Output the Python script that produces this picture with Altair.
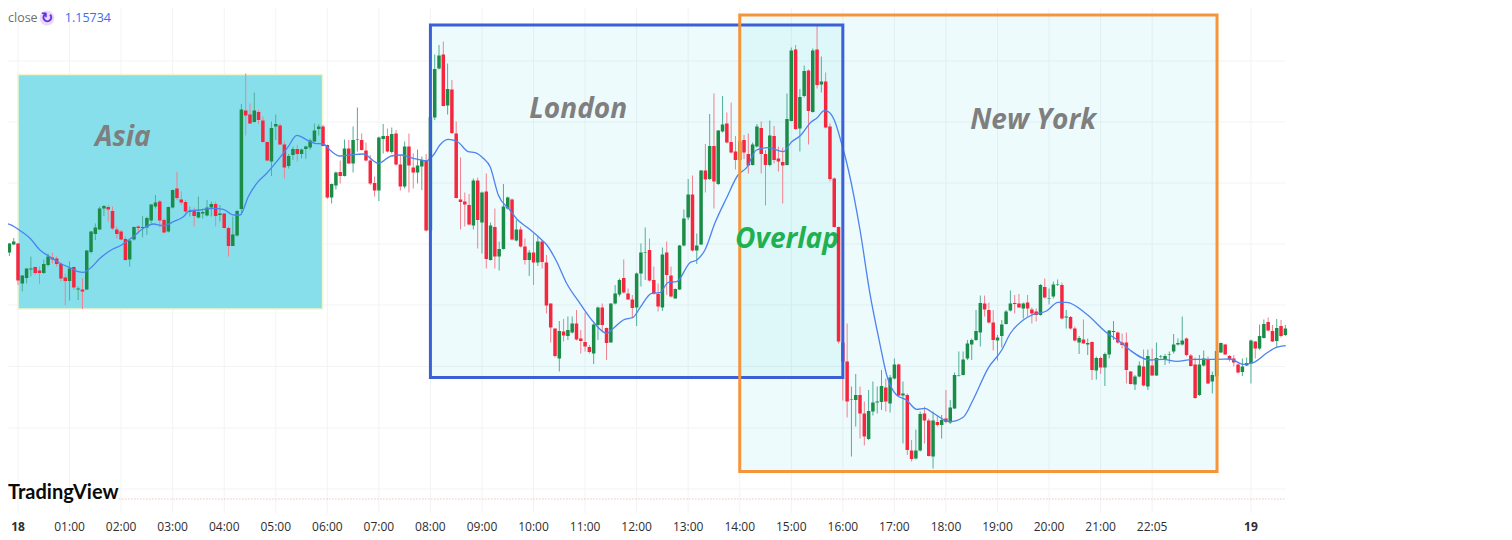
import altair as alt
import pandas as pd

# 5-minute candles; "bar" 0 is 00:00 on the 18th. Prices are in chart points.
opens = [
313.5,296.5,287.5,295.5,296.5,256.5,262,270.5,273,269.5,
267,275,282.5,281.5,276,262.5,259,273,250.5,250.5,
250.5,288,306,310.5,331.5,333,329,310.5,308.5,301,
280.5,300.5,313.5,312,312.5,319.5,333.5,338.5,320,308.5,
332.5,351.5,340.5,338,328,329,322.5,326.5,324.5,332.5,
336,325,326.5,312,294,304.5,331,429.5,425.5,418,
428,419.5,398,378.5,413.5,414.5,395.5,374,385,391,
386,391,392.5,398.5,411,413.5,395,342.5,354.5,368,
364,391.5,376.5,400,400,389.5,379.5,357,349.5,401,
404,388,406.5,375.5,353.5,393.5,372.5,367.5,373.5,380,
309.5,422.5,471.5,485.5,434.5,450.5,406.5,340.5,338.5,335,
314.5,359.5,317.5,348.5,280,313,283.5,291,331.5,340.5,
299.5,310.5,293.5,280,287.5,277.5,298.5,277.5,236.5,211.5,
181.5,208.5,204,207.5,216.5,201.5,198,193,186.5,215,
232.5,212,197.5,236.5,245.5,262,246.5,240.5,232.5,266.5,
287,290,260,246,232.5,287.5,264.5,241.5,250.5,294.5,
322.5,345.5,289.5,295.5,369.5,361,394,356,408.5,416.5,
398,388.5,380,400,386,375,393.5,412,386,375,
404,381.5,378,375,419,490.5,411.5,444,469.5,428,
490.5,455.5,458.5,413.5,361.5,313,197.5,178.5,140,140,
145,126.5,101,128.5,137.5,138,152.5,136.5,161.5,175.5,
144.5,145,89.5,81.5,89.5,126.5,119.5,83.5,118,115,
121.5,117.5,131.5,164.5,165,181.5,195.5,200,207.5,236.5,
230,217.5,199.5,204,216,229.5,237,236.5,231.5,237.5,
230.5,228.5,225,253,241,243.5,255,255,222.5,223,
211.5,197.5,200.5,195.5,198,169.5,182,172.5,185.5,208,
207.5,197.5,197.5,168.5,155.5,163.5,173.5,153.5,174.5,164.5,
183.5,180.5,185.5,188.5,195.5,195.5,201.5,184.5,175.5,145,
174.5,180,158.5,163.5,187.5,195.5,184,181.5,175.5,168,
174.5,176.5,198.5,191.5,202,218,209,199,214,205,
]
highs = [
315,297,297,302,297,265,271.5,283.5,273.5,273.5,
280.5,286.5,287.5,283.5,277.5,266.5,278.5,273.5,253.5,261.5,
290,309,316.5,333.5,335,335,333.5,313.5,310,303.5,
300,313.5,314.5,324,323.5,336,345,340,321.5,333.5,
350.5,368,348.5,340,333.5,332.5,343.5,331.5,340,338.5,
338.5,335,326.5,313.5,323.5,330,436,466.5,436.5,447.5,
430,423.5,398.5,418.5,425.5,416.5,398.5,386,393.5,395,
391.5,394.5,401.5,416.5,416,415,395.5,356.5,368.5,379.5,
400.5,400,413.5,432.5,406.5,397.5,385,363.5,403.5,416,
411.5,412.5,410,385,398.5,406.5,386.5,390.5,383.5,386,
423.5,485.5,495,498.5,476.5,460,418.5,382.5,347.5,346,
361.5,362.5,348.5,366.5,317.5,331.5,298.5,356,343.5,341.5,
320,313.5,301.5,290,306.5,303.5,300,285,236.5,211.5,
219,221,223.5,223.5,230,210,227.5,195,216.5,233.5,
236.5,212.5,236.5,255,261.5,280.5,251.5,245,267.5,296.5,
312.5,301.5,273.5,256.5,292.5,298.5,273.5,251.5,295,330.5,
361,364.5,306.5,370,396,426,446.5,410,444,427.5,
437.5,404,411,405,406.5,397.5,416,418.5,390,419.5,
414,393.5,392.5,446.5,492.5,495,451,474.5,470.5,491.5,
516,483.5,467.5,416.5,362.5,313.5,223.5,216.5,153.5,166,
153.5,138.5,150,158.5,153.5,170,161.5,165,181.5,176.5,
158.5,146.5,100,110.5,128.5,133.5,121.5,128.5,125,125,
150,140,167.5,188.5,188.5,200,201.5,230,244.5,244.5,
237.5,230,205,220,230,249.5,245,246,237.5,245,
232.5,231.5,256,261.5,251.5,258.5,260.5,257.5,230,224,
213.5,204,220.5,201.5,198.5,183.5,183.5,187.5,210,219,
208.5,206.5,207.5,169,165,178.5,190.5,190.5,191.5,197.5,
185,186,188.5,206,201.5,223.5,202.5,186,182.5,185,
189.5,183.5,168.5,198.5,197.5,196,185,185,176.5,181.5,
182.5,200.5,199,215.5,220.5,222.5,215,221,220,215,
]
lows = [
295.5,286.5,284,295,255,248.5,256.5,263.5,265,256,
266,273.5,276.5,273.5,258.5,235,239.5,250,240,231,
250,286.5,300,310,324,318.5,310,301.5,300,279,
273.5,299.5,306.5,302.5,305,316.5,331.5,312.5,306.5,307.5,
331.5,340,335,326.5,323.5,313.5,321.5,321.5,323.5,323.5,
313.5,318.5,311.5,283.5,294,303.5,325,404.5,416,417.5,
416,397.5,378.5,364,400,395,361.5,371.5,380,378.5,
381.5,381.5,390,398,404.5,393.5,341,336.5,350.5,356.5,
363.5,376,367.5,388.5,389.5,378.5,355,343.5,339,386.5,
387.5,386.5,374.5,349.5,351.5,347.5,351.5,356.5,350,308.5,
308.5,420,470.5,433.5,425.5,406,341.5,310.5,313.5,314.5,
310.5,291.5,286.5,271.5,279.5,271.5,269.5,290.5,330.5,299.5,
298.5,292.5,275.5,264,255,274,271.5,226.5,197.5,182.5,
168.5,198.5,200,206.5,199.5,186.5,188.5,186.5,176,200,
208.5,180,197.5,235.5,243.5,246.5,240,221.5,214,253.5,
260,258.5,245.5,228.5,229,245,242.5,241.5,250,293.5,
320,288.5,276,295,347.5,360,331.5,355,407.5,396.5,
386.5,370.5,375,381,366.5,374.5,392.5,366.5,334.5,373.5,
376.5,368.5,336.5,374.5,418.5,410,388.5,442.5,395.5,427.5,
451.5,447.5,411.5,358.5,312.5,196.5,139.5,122.5,83.5,113.5,
101.5,94.5,100,124.5,126.5,130,128.5,127.5,160.5,143.5,
96.5,85,78.5,80.5,88.5,96.5,83.5,71.5,113.5,101.5,
116.5,116,131,163.5,164.5,180,180,199,193.5,223.5,
216.5,189.5,179.5,192.5,215.5,228.5,226.5,232.5,221.5,223.5,
216.5,218.5,224.5,241.5,235.5,241.5,254,220.5,211.5,210.5,
198.5,186,196.5,185,160,160.5,166,154,181.5,200,
196.5,191.5,156.5,155.5,150,162.5,153.5,150,164,164,
181.5,175,176.5,186.5,194.5,194.5,183.5,173.5,141,144,
173.5,156,146.5,162.5,187,185,178.5,173.5,166.5,164,
174,156.5,181.5,190,201.5,208.5,198,192.5,202.5,204,
]
closes = [
296.5,287.5,296.5,298.5,259.5,264.5,271.5,271.5,267,267,
276,283.5,280.5,276,261.5,259,271.5,252.5,251.5,248.5,
289.5,308.5,312.5,331.5,334,330.5,311.5,306,300.5,280,
299.5,313,312,313,322,335.5,337.5,319.5,307.5,333,
350,342,337.5,328.5,329,324,328,328,332.5,336,
324,326.5,312,294,305.5,329,430.5,424.5,416.5,429.5,
420,398,379.5,412,416,395.5,372.5,384,391,386,
390.5,393.5,399.5,409.5,413.5,394,342.5,356,367.5,364,
391.5,376.5,400,400.5,390,379.5,356.5,349.5,402.5,404,
388.5,406,375.5,353.5,393.5,374.5,367.5,374.5,380,309.5,
423,471,484.5,434,451,407,342,338,335.5,315.5,
359.5,320,347.5,281,314.5,283.5,291,333.5,342.5,300.5,
310.5,293.5,280,287.5,277.5,298.5,278,234.5,212.5,184,
209,204.5,210,216.5,200.5,199,193.5,188,215.5,232.5,
215,197,236.5,246.5,260,247.5,240.5,232,266.5,287.5,
287.5,259.5,246.5,233.5,285.5,265,243.5,251,294.5,321.5,
345.5,289.5,294.5,369.5,360.5,394,358.5,409.5,415.5,397.5,
387.5,380,398.5,387.5,374.5,395.5,413.5,386,375,404.5,
380,378.5,374.5,421,489.5,411,443,469,429,489.5,
455,458.5,412.5,361,313,198.5,178.5,138.5,140.5,145,
126.5,103.5,129,137.5,138.5,154,138.5,162.5,175.5,144.5,
146.5,90,81,89.5,126,119.5,84,119.5,115,120,
118,132.5,165,165,180.5,196.5,200,209,237,230.5,
217.5,200,202.5,215.5,228.5,236.5,236,232.5,236.5,231.5,
226.5,225,255,242.5,241.5,255.5,255.5,221.5,223.5,211.5,
199.5,202,196.5,197,170,182,172.5,186,209.5,209,
197.5,195,170,156,163.5,174.5,154.5,184,164.5,182,
184,184,186,195.5,197,199.5,185,174,142,175.5,
181.5,156.5,165,189,197,185.5,180.5,177.5,167.5,173.5,
177,199.5,191.5,204,216,209.5,198.5,212,204,211.5,
]
first_bar = -4

ma_bars = [-4.2,-1.4,0.5,2.8,5.1,7.4,9.8,12.1,14,15.2,16.8,19.1,21.4,24.1,26.8,29.2,31.5,33.8,36.2,38.5,
           40,42.4,45.5,47.8,50.1,51.7,53.6,55.9,57.9,60.2,62.9,64.9,67.6,69.1,71.1,72.6,74.9,77.3,80.4,83.9,
           86.9,89.3,92,95.1,96.7,98.2,100.2,102.5,104.8,106.4,108.3,109.9,111.8,114.5,116.1,118.8,121.5,123.1,125.4,127.7,
           130.8,133.9,137,138.6,140.9,143.2,144.8,147.5,149.4,151.4,153.3,156.4,158,159.9,162.2,164.9,167.6,169.6,171.9,174.6,
           178.1,180.1,182,184.7,185.9,187.7,188.6,190,191.7,193.3,196,198.3,200.6,202.2,204.5,206.8,209.2,211.1,213.1,216.9,
           220,222.3,225.8,229,230.9,234,236,239.4,242.1,244.1,248.7,253.4,256.5,258.8,263.5,266.6,269.7,273.6,279,282.1,
           285.2,287.5,290.6,292.9,295.1]
ma_vals = [317.7,314.7,309.3,301.7,290,283.3,276.7,272.3,268.3,267.7,271.7,281.7,289.3,295,303.3,311.7,316,314.3,318.3,323.3,
           329.3,330,331.7,330.7,325,325,343.3,358.3,366.7,378.3,393.3,404.7,399.3,396.7,396,390,384,385,386,376.7,
           384,385,381.7,379.3,385,395,400.7,397.7,388.3,387.3,381.7,373.3,345,330,321,311.7,301.7,295,278.3,256.7,
           236.7,218.3,206.7,211.7,220,222.7,232.3,246.7,247.3,257.7,258.3,277.3,280,290,316.7,341.7,365,372.3,390,392.3,
           388.3,398.3,404,418.3,421.7,429.3,428.3,420,396.7,370,310,246.7,196.7,165,145,140,130.7,131.7,126.7,118.3,
           122.7,140,171.7,190,206,220,225,229,237.7,237.7,226,207.3,198.3,190,180,180.7,178.7,180.7,180.7,181,
           175.7,177.3,186.7,192.7,194.3]

tick_bars = [0,12,24,36,48,60,72,84,96,108,120,132,144,156,168,180,192,204,216,228,240,252,264,287]
tick_labels = ["18","01:00","02:00","03:00","04:00","05:00","06:00","07:00","08:00","09:00","10:00","11:00",
               "12:00","13:00","14:00","15:00","16:00","17:00","18:00","19:00","20:00","21:00","22:05","19"]
grid_levels = [479,418,357,296,235,173.5,112,51]

session_names = ["London","New York"]
session_start = [96,168]
session_end = [192,279.1]
session_top = [515,525]
session_bottom = [162.5,68.5]
session_colors = ["#3A5FD6","#F6943A"]

asia_start, asia_end, asia_top, asia_bottom = 0, 70.9, 465.5, 231

note_text = ["Asia","London","New York"]
note_bar = [24.4,130.4,236.3]
note_level = [402.5,430.5,419.5]

W, H = 1496, 528
BAR_MIN, BAR_MAX = -2.3277, 345.9
x_scale = alt.Scale(domain=[BAR_MIN, BAR_MAX], nice=False, zero=False)
y_scale = alt.Scale(domain=[4, 532], nice=False, zero=False)
X = lambda f: alt.X(f, type="quantitative", scale=x_scale, axis=None)
Y = lambda f: alt.Y(f, type="quantitative", scale=y_scale, axis=None)

candles = pd.DataFrame({"bar": range(first_bar, first_bar + len(opens)),
                        "open": opens, "high": highs, "low": lows, "close": closes})
candles["body"] = ["#1B8C47" if c >= o else "#F5273E" for o, c in zip(opens, closes)]
candles["wick"] = ["#4FAF97" if c >= o else "#F0808F" for o, c in zip(opens, closes)]
ma = pd.DataFrame({"bar": ma_bars, "ma": ma_vals})
ticks = pd.DataFrame({"bar": tick_bars, "label": tick_labels,
                      "lo": [27]*len(tick_bars), "hi": [532]*len(tick_bars), "lab": [13]*len(tick_bars)})
day_ticks = ticks[ticks["label"].isin(["18", "19"])]
hour_ticks = ticks[~ticks["label"].isin(["18", "19"])]
grid = pd.DataFrame({"level": grid_levels, "a": [BAR_MIN]*len(grid_levels), "b": [295]*len(grid_levels)})
sessions = pd.DataFrame({"name": session_names, "s": session_start, "e": session_end,
                         "t": session_top, "b": session_bottom, "c": session_colors})
asia = pd.DataFrame({"s": [asia_start], "e": [asia_end], "t": [asia_top], "b": [asia_bottom]})
notes = pd.DataFrame({"text": note_text, "bar": note_bar, "level": note_level})

vgrid = alt.Chart(ticks).mark_rule(color="#F1F3F6", strokeWidth=1).encode(x=X("bar"), y=Y("lo"), y2="hi")
hgrid = alt.Chart(grid).mark_rule(color="#F1F3F6", strokeWidth=1).encode(x=X("a"), x2="b", y=Y("level"))

asia_rect = alt.Chart(asia).mark_rect(fill="#87DFEB", stroke="#F3F6C8", strokeWidth=1.5).encode(
    x=X("s"), x2="e", y=Y("b"), y2="t")
sess_fill = alt.Chart(sessions).mark_rect(fill="#00BCD4", fillOpacity=0.065).encode(
    x=X("s"), x2="e", y=Y("b"), y2="t")
sess_stroke = alt.Chart(sessions).mark_rect(fillOpacity=0, strokeWidth=3).encode(
    x=X("s"), x2="e", y=Y("b"), y2="t",
    stroke=alt.Stroke("c:N", scale=None))

wicks = alt.Chart(candles).mark_rule(strokeWidth=1).encode(
    x=X("bar"), y=Y("low"), y2="high", color=alt.Color("wick:N", scale=None))
bodies = alt.Chart(candles).mark_rule(strokeWidth=3.5).encode(
    x=X("bar"), y=Y("open"), y2="close", color=alt.Color("body:N", scale=None))
ma_line = alt.Chart(ma).mark_line(color="#4C82F2", strokeWidth=1.3, interpolate="monotone").encode(x=X("bar"), y=Y("ma"))

note_marks = alt.Chart(notes).mark_text(font="Open Sans", fontSize=28, fontWeight="bold", fontStyle="italic",
                                        color="#7F7F7F").encode(x=X("bar"), y=Y("level"), text="text")
overlap = alt.Chart(pd.DataFrame({"t": ["Overlap"], "bar": [179], "level": [300.5]})).mark_text(
    font="Open Sans", fontSize=28, fontWeight="bold", fontStyle="italic", color="#1FB14F").encode(
    x=X("bar"), y=Y("level"), text="t")

hour_text = alt.Chart(hour_ticks).mark_text(font="Open Sans", fontSize=12, color="#2E2E2E").encode(
    x=X("bar"), y=Y("lab"), text="label")
day_text = alt.Chart(day_ticks).mark_text(font="Open Sans", fontSize=12, fontWeight="bold", color="#2E2E2E").encode(
    x=X("bar"), y=Y("lab"), text="label")

dots = alt.Chart(pd.DataFrame({"a": [23.6], "b": [295], "level": [41]})).mark_rule(
    color="#F3A3A3", strokeWidth=1, strokeDash=[1, 2]).encode(x=X("a"), x2="b", y=Y("level"))
brand = alt.Chart(pd.DataFrame({"t": ["TradingView"], "bar": [BAR_MIN], "level": [47]})).mark_text(
    font="Lato", fontSize=20, fontWeight="bold", color="#0A0A0A", align="left").encode(x=X("bar"), y=Y("level"), text="t")
close_word = alt.Chart(pd.DataFrame({"t": ["close"], "bar": [BAR_MIN], "level": [522]})).mark_text(
    font="Open Sans", fontSize=12.5, color="#6F6F6F", align="left").encode(x=X("bar"), y=Y("level"), text="t")
icon_bg = alt.Chart(pd.DataFrame({"bar": [6.75], "level": [522]})).mark_point(
    shape="circle", size=220, filled=True, color="#E7DCFB", opacity=1).encode(x=X("bar"), y=Y("level"))
icon = alt.Chart(pd.DataFrame({"t": ["\u21bb"], "bar": [6.75], "level": [522]})).mark_text(
    font="DejaVu Sans", fontSize=15, fontWeight="bold", color="#6A2BE0").encode(x=X("bar"), y=Y("level"), text="t")
close_val = alt.Chart(pd.DataFrame({"t": ["1.15734"], "bar": [10.9], "level": [522]})).mark_text(
    font="Open Sans", fontSize=12.5, color="#3D6BF5", align="left").encode(x=X("bar"), y=Y("level"), text="t")

chart = alt.layer(
    vgrid, hgrid, asia_rect, sess_fill, wicks, bodies, ma_line, sess_stroke,
    note_marks, overlap, hour_text, day_text, dots, brand, close_word, icon_bg, icon, close_val
).properties(width=W, height=H, padding=0, background="white",
             autosize=alt.AutoSizeParams(type="none")).configure_view(stroke=None)

chart.save("out.html", embed_options={"renderer": "svg", "actions": False})
